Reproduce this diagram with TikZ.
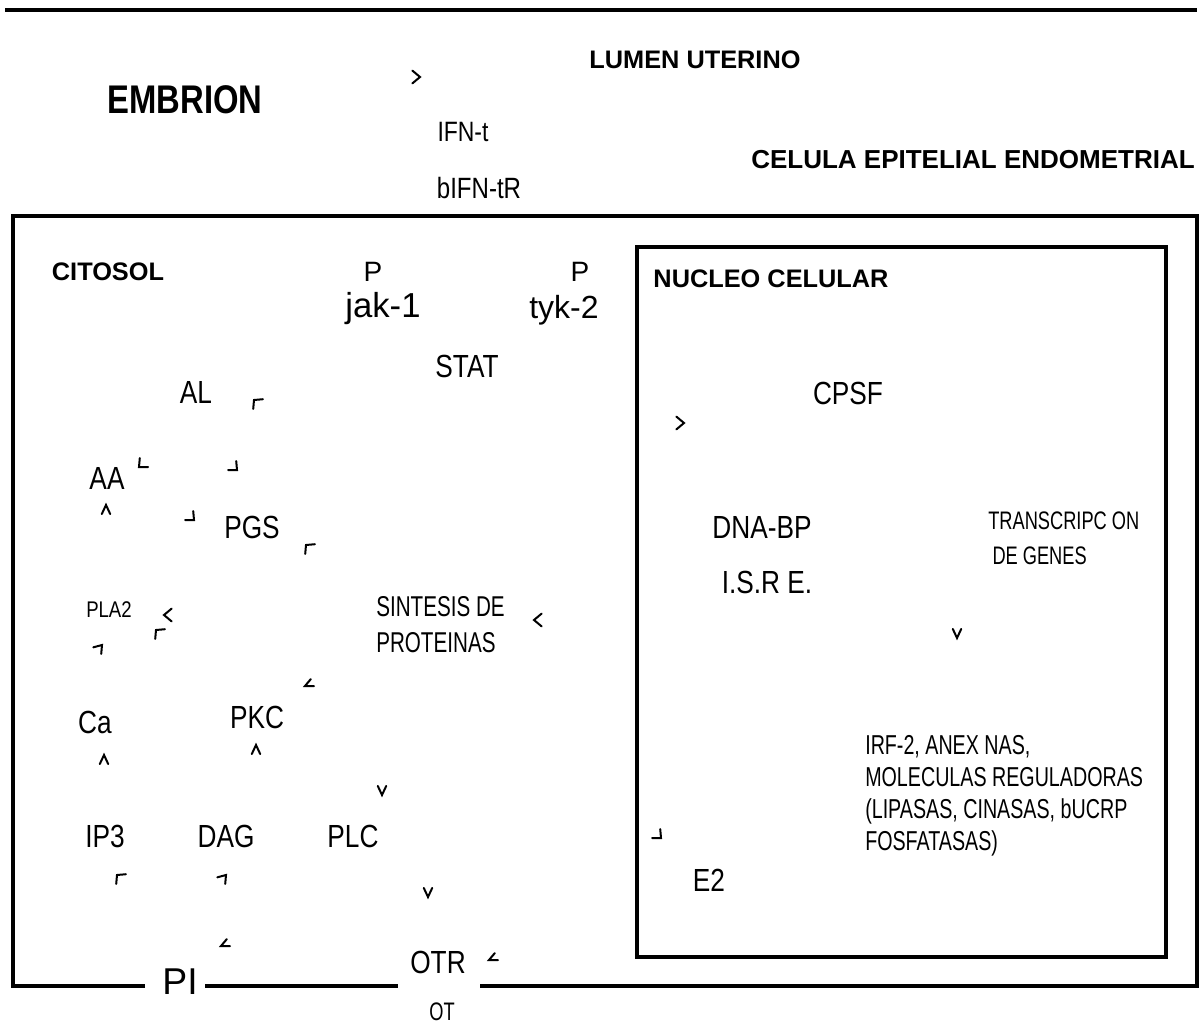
\documentclass[tikz,border=0pt]{standalone}
\usepackage{fontspec}
\setmainfont{Liberation Sans}
\newfontfamily\narrowsf{Liberation Sans}[FakeStretch=0.82]
\newfontfamily\thinsf{Liberation Sans}[FakeStretch=0.72]
\usetikzlibrary{positioning}

\begin{document}
\begin{tikzpicture}[x=0.75pt,y=-0.75pt,
  title/.style={inner sep=0pt,font=\bfseries\fontsize{19}{23}\selectfont},
  lbl/.style={inner sep=0pt,font=\narrowsf\fontsize{24}{28}\selectfont},
  plain/.style={inner sep=0pt,font=\fontsize{21}{25}\selectfont},
  note/.style={inner sep=0pt,anchor=west,align=left,font=\thinsf\fontsize{20.5}{24}\selectfont},
  wall/.style={line width=3.2pt},
  tip/.style={line width=1.5pt,line cap=round,line join=miter}]
\useasboundingbox (0,0) rectangle (1202,1030);

% Lumen
\draw[line width=3pt] (5,10) -- (1197,10);
\node[title,font=\bfseries\narrowsf\fontsize{30}{34}\selectfont] (embrion) at (185,100) {EMBRION};
\node[title] (lumen) at (695,60) {LUMEN UTERINO};
\node[lbl,font=\narrowsf\fontsize{21}{25}\selectfont] (ifn) at (463,132) {IFN-t};
\node[lbl,font=\narrowsf\fontsize{22}{26}\selectfont] (rec) at (479,188) {bIFN-tR};
\node[title,font=\bfseries\fontsize{19.5}{23}\selectfont,anchor=east] (celula) at (1195,160) {CELULA EPITELIAL ENDOMETRIAL};

% Cell and nucleus walls
\draw[wall] (145,986) -- (13,986) -- (13,216) -- (1197,216) -- (1197,986) -- (480,986);
\draw[wall] (205,986) -- (398,986);
\draw[line width=2.3pt] (637,247) rectangle (1166,957);
\node[plain,font=\fontsize{28}{32}\selectfont] (pi) at (180,982) {PI};
\node[lbl] (otr) at (438,962) {OTR};
\node[lbl,font=\thinsf\fontsize{19}{22}\selectfont] (ot) at (442,1012) {OT};

% Cytosol
\node[title] (citosol) at (108,272) {CITOSOL};
\node[plain] (p1) at (373,272) {P};
\node[plain] (p2) at (580,272) {P};
\node[plain,font=\fontsize{26}{30}\selectfont] (jak) at (383,309) {jak-1};
\node[plain,font=\fontsize{24}{28}\selectfont] (tyk) at (564,310) {tyk-2};
\node[lbl] (stat) at (467,366) {STAT};
\node[lbl] (al) at (196,392) {AL};
\node[lbl] (aa) at (107,478) {AA};
\node[lbl] (pgs) at (252,527) {PGS};
\node[lbl,font=\narrowsf\fontsize{17}{20}\selectfont] (pla) at (109,610) {PLA2};
\node[note,font=\thinsf\fontsize{21.5}{27}\selectfont] (sintesis) at (376,625) {SINTESIS DE\\PROTEINAS};
\node[lbl] (ca) at (95,722) {Ca};
\node[lbl] (pkc) at (257,717) {PKC};
\node[lbl] (ip) at (105,836) {IP3};
\node[lbl] (dag) at (226,836) {DAG};
\node[lbl] (plc) at (353,836) {PLC};

% Nucleus
\node[title] (nucleo) at (771,279) {NUCLEO CELULAR};
\node[lbl] (cpsf) at (848,393) {CPSF};
\node[lbl] (dnabp) at (762,527) {DNA-BP};
\node[lbl] (isre) at (767,582) {I.S.R E.};
\node[note,font=\thinsf\fontsize{19}{26}\selectfont] (transc) at (988,538) {TRANSCRIPC ON\\\,DE GENES};
\node[note] (irf) at (865,796) {IRF-2, ANEX NAS,\\MOLECULAS REGULADORAS\\(LIPASAS, CINASAS, bUCRP\\FOSFATASAS)};
\node[lbl] (e2) at (709,880) {E2};

% Arrow heads
\foreach \x/\y/\a/\b in {420/77/140/220, 684/423/140/220, 164/615/320/40, 534/620/320/40,
    106/505/65/115, 104/755/65/115, 256/745/65/115,
    382/795/245/295, 428/897/245/295, 957/638/245/295}
  \draw[tip] (\x,\y) ++(\a:10) -- (\x,\y) -- ++(\b:10);
\foreach \x/\y/\a/\b in {254/400/355/95, 306/545/355/95, 156/630/355/95, 117/875/355/95,
    139/467/0/275, 237/470/180/265, 194/520/180/265, 661/838/180/265,
    102/645/165/95, 226/875/165/95,
    305/686/0/310, 221/946/0/310, 489/960/0/310}
  \draw[tip] (\x,\y) ++(\a:9) -- (\x,\y) -- ++(\b:9);
\end{tikzpicture}
\end{document}
